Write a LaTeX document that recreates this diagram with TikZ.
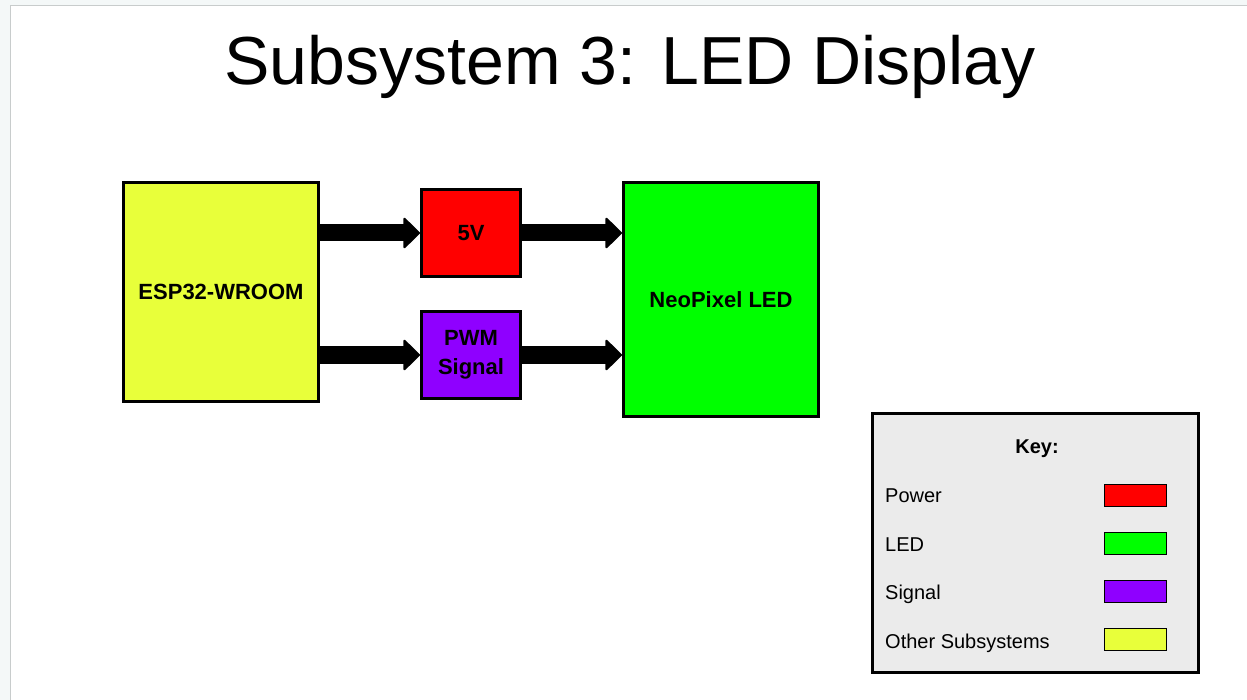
\documentclass[tikz,border=0pt]{standalone}
\usepackage{fontspec}
\setmainfont{Liberation Sans}
\usepackage{xcolor}
\usetikzlibrary{arrows.meta, positioning, calc}
\definecolor{OtherYellow}{HTML}{E8FF3A}
\definecolor{PowerRed}{HTML}{FF0000}
\definecolor{LedGreen}{HTML}{00FF00}
\definecolor{SignalPurple}{HTML}{8F00FF}
\definecolor{KeyGray}{HTML}{EBEBEB}
\definecolor{FrameGray}{HTML}{C8CCCC}
\definecolor{PageTint}{HTML}{F4F8F8}

\begin{document}
\begin{tikzpicture}[
  x=1pt, y=-1pt,
  block/.style={draw, line width=3pt, fill=#1, align=center, inner sep=0pt, font=\fontsize{22}{29}\selectfont\bfseries},
  swatch/.style={draw, line width=1.5pt, fill=#1, minimum width=62pt, minimum height=22pt, inner sep=0pt},
  keytext/.style={anchor=base west, inner sep=0pt, font=\fontsize{20}{24}\selectfont},
  arr/.style={-{Triangle[length=17pt,width=33pt,line width=2pt,round]}, line width=17pt}
]
\useasboundingbox (0,0) rectangle (1247,700);
% page frame
\fill[PageTint] (0,0) rectangle (1247,700);
\fill[white] (10.5,5.5) rectangle (1247,700);
\draw[FrameGray, line width=1.2pt] (10.5,700) -- (10.5,5.5) -- (1247,5.5);

\node[anchor=base, inner sep=0pt, font=\fontsize{68}{80}\selectfont] (title) at (630,85) {Subsystem 3: LED Display};

% blocks
\node[block=OtherYellow, minimum width=195pt, minimum height=219pt] (esp) at (221,292) {ESP32-WROOM};
\node[block=PowerRed, minimum width=99pt, minimum height=87pt] (fivev) at (471,233) {5V};
\node[block=SignalPurple, minimum width=99pt, minimum height=87pt] (pwm) at (471,355) {PWM\\Signal};
\node[block=LedGreen, minimum width=195pt, minimum height=234pt] (neo) at (721,299.5) {NeoPixel LED};

% connectors
\draw[arr] (esp.east |- fivev.west) -- (fivev.west);
\draw[arr] (esp.east |- pwm.west) -- (pwm.west);
\draw[arr] (fivev.east) -- (neo.west |- fivev.east);
\draw[arr] (pwm.east) -- (neo.west |- pwm.east);

% key
\node[draw, line width=3pt, fill=KeyGray, minimum width=326pt, minimum height=259pt, inner sep=0pt] (key) at (1035.5,543) {};
\node[anchor=base, inner sep=0pt, font=\fontsize{20}{24}\selectfont\bfseries] (keytitle) at (1037,453) {Key:};
\node[keytext] (kpower) at (885,502) {Power};
\node[keytext] (kled) at (885,551) {LED};
\node[keytext] (ksignal) at (885,599.5) {Signal};
\node[keytext] (kother) at (885,648) {Other Subsystems};
\node[swatch=PowerRed] (spower) at (1135.5,495.5) {};
\node[swatch=LedGreen] (sled) at (1135.5,543.5) {};
\node[swatch=SignalPurple] (ssignal) at (1135.5,591.5) {};
\node[swatch=OtherYellow] (sother) at (1135.5,639.5) {};
\end{tikzpicture}
\end{document}
